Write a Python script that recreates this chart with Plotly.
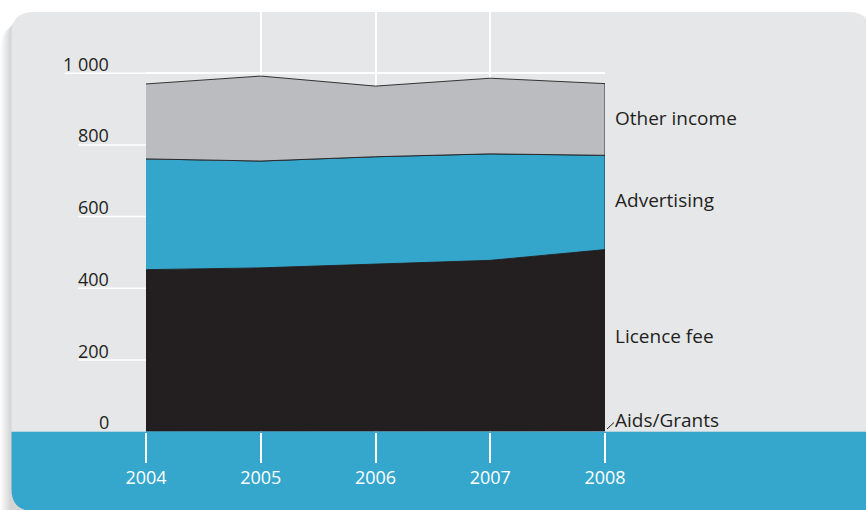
import plotly.graph_objects as go

# ---- data ----
years = [2004, 2005, 2006, 2007, 2008]
aids_grants = [2, 2, 2, 2, 2]
licence_fee = [450, 455, 466, 476, 506]
advertising = [309, 298, 299, 297, 263]
other_income = [209, 237, 197, 211, 200]
series_names = ["Aids/Grants", "Licence fee", "Advertising", "Other income"]
y_ticks = [0, 200, 400, 600, 800, 1000]
y_tick_labels = ["0", "200", "400", "600", "800", "1 000"]

# ---- style ----
W, H = 866, 510
PANEL = "#e6e7e9"
BAND = "#35a7cd"
DARK = "#231f20"
colors = {"Aids/Grants": "#34a6cc", "Licence fee": "#231f20",
          "Advertising": "#34a6cc", "Other income": "#bbbcc0"}
FONT = "Open Sans"

x_left_px, x_right_px = 146, 605
y_zero_px, y_top_px = 431.7, 12
px_per_unit = 0.3585
y_max = (y_zero_px - y_top_px) / px_per_unit

def px(x):
    return x / W

def py(y):
    return 1 - y / H

fig = go.Figure()

# stacked polygons
values = [aids_grants, licence_fee, advertising, other_income]
bottom = [0] * len(years)
for name, vals in zip(series_names, values):
    top = [b + v for b, v in zip(bottom, vals)]
    outlined = name != "Aids/Grants"
    fig.add_trace(go.Scatter(
        x=years + years[::-1], y=top + bottom[::-1],
        fill="toself", fillcolor=colors[name], mode="lines",
        line=dict(color=DARK if outlined else colors[name], width=0.9 if outlined else 0.5),
        hoverinfo="skip", showlegend=False, name=name))
    bottom = top

# ---- background shapes ----
r = 22
shapes = []
# soft shadow on the left
for k in range(1, 12):
    x0 = 11.5 - k
    shapes.append(dict(type="path", xref="paper", yref="paper", layer="below",
        path=(f"M {px(x0)} {py(14 + r + k)} Q {px(x0)} {py(14 + k)} {px(x0 + r)} {py(14 + k)} "
              f"L {px(880)} {py(14 + k)} L {px(880)} {py(515)} L {px(x0)} {py(515)} Z"),
        fillcolor="#6a6a6a", opacity=0.028, line=dict(width=0)))
# gray panel
shapes.append(dict(type="path", xref="paper", yref="paper", layer="below",
    path=(f"M {px(11.5)} {py(12 + r)} Q {px(11.5)} {py(12)} {px(11.5 + r)} {py(12)} "
          f"L {px(850)} {py(12)} Q {px(868)} {py(12)} {px(868)} {py(30)} "
          f"L {px(868)} {py(y_zero_px)} L {px(11.5)} {py(y_zero_px)} Z"),
    fillcolor=PANEL, line=dict(width=0)))
# blue band
shapes.append(dict(type="path", xref="paper", yref="paper", layer="below",
    path=(f"M {px(11.5)} {py(y_zero_px)} L {px(868)} {py(y_zero_px)} L {px(868)} {py(511)} "
          f"L {px(11.5 + r)} {py(511)} Q {px(11.5)} {py(511)} {px(11.5)} {py(511 - r)} Z"),
    fillcolor=BAND, line=dict(width=0)))

annotations = []
# y labels with underlines
for v, t in zip(y_ticks, y_tick_labels):
    annotations.append(dict(x=px(111.5), y=v, xref="paper", yref="y", text=t,
        showarrow=False, xanchor="right", yanchor="bottom", yshift=-4.5,
        font=dict(family=FONT, size=18, color=DARK)))
    n_digits = sum(c.isdigit() for c in t)
    n_sp = t.count(" ")
    x_start = 110 - n_digits * 10.6 - n_sp * 3
    if v > 0:
        shapes.append(dict(type="line", xref="paper", yref="y", layer="below",
            x0=px(x_start), x1=px(x_left_px), y0=v, y1=v,
            line=dict(color="white", width=1.5)))

# series labels
label_y = {"Other income": 118, "Advertising": 200, "Licence fee": 336, "Aids/Grants": 420}
for name in series_names:
    annotations.append(dict(x=px(613), y=py(label_y[name]), xref="paper", yref="paper",
        text=name, showarrow=False, xanchor="left", yanchor="middle",
        font=dict(family=FONT, size=19, color=DARK)))
# leader for Aids/Grants
shapes.append(dict(type="line", xref="paper", yref="paper",
    x0=px(607), y0=py(429), x1=px(614), y1=py(422.5),
    line=dict(color=DARK, width=1)))

fig.update_layout(
    width=W, height=H, autosize=False,
    margin=dict(l=0, r=0, t=0, b=0, pad=0, autoexpand=False),
    paper_bgcolor="white", plot_bgcolor="rgba(0,0,0,0)",
    shapes=shapes, annotations=annotations, showlegend=False,
    xaxis=dict(domain=[px(x_left_px), px(x_right_px)], range=[years[0], years[-1]],
               tickvals=years, ticktext=[str(y) for y in years],
               showgrid=True, gridcolor="white", gridwidth=1.5,
               ticks="outside", ticklen=30, tickcolor="white", tickwidth=1.5,
               tickfont=dict(family=FONT, size=18, color="white"),
               showline=False, zeroline=False, fixedrange=True, automargin=False),
    yaxis=dict(domain=[py(y_zero_px), py(y_top_px)], range=[0, y_max],
               tickvals=y_ticks, showticklabels=False,
               showgrid=True, gridcolor="white", gridwidth=1.5,
               showline=False, zeroline=False, fixedrange=True, automargin=False),
)

fig.write_html("out.html", config={"displayModeBar": False},
               post_script="document.body.style.margin='0';document.body.style.overflow='hidden';")
